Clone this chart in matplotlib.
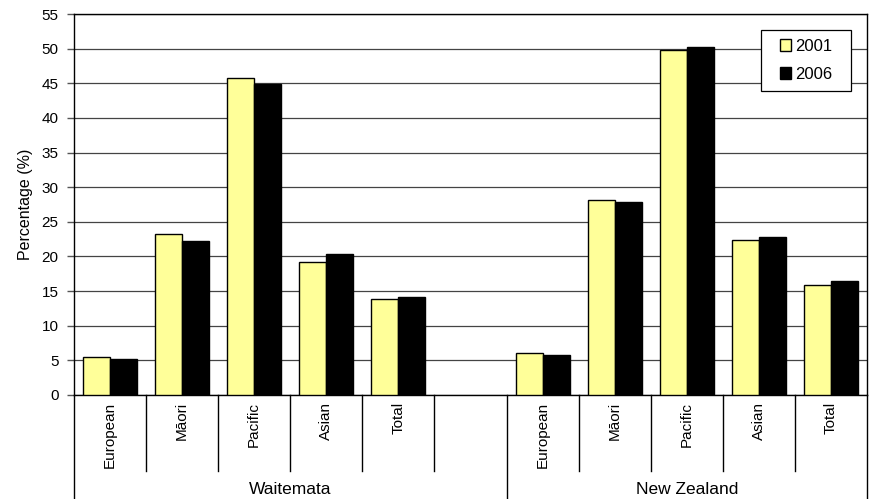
import numpy as np
import matplotlib
matplotlib.use("Agg")
import matplotlib.pyplot as plt
from matplotlib.lines import Line2D
from matplotlib.patches import Rectangle

plt.rcParams['font.family'] = ['Liberation Sans', 'DejaVu Sans']

# data
groups = ['Waitemata', 'New Zealand']
ethnicities = ['European', 'Māori', 'Pacific', 'Asian', 'Total']
years = ['2001', '2006']
waitemata_2001 = [5.5, 23.3, 45.7, 19.2, 13.8]
waitemata_2006 = [5.2, 22.3, 44.9, 20.3, 14.2]
nz_2001 = [6.1, 28.1, 49.8, 22.4, 15.9]
nz_2006 = [5.8, 27.8, 50.2, 22.8, 16.5]
y_ticks = list(range(0, 56, 5))

colors = ['#FFFF99', '#000000']

fig = plt.figure(figsize=(8.73, 4.99), dpi=100)
ax = fig.add_axes([74 / 873, 104 / 499, 793 / 873, 381 / 499])

# slots: 5 categories, one empty slot, 5 categories
n = len(ethnicities)
pos_w = np.arange(n)
pos_nz = np.arange(n) + n + 1
positions = np.concatenate([pos_w, pos_nz])
vals_2001 = waitemata_2001 + nz_2001
vals_2006 = waitemata_2006 + nz_2006

w = 0.375
ax.bar(positions - w / 2, vals_2001, width=w, color=colors[0], edgecolor='black',
       linewidth=1, label=years[0], zorder=3)
ax.bar(positions + w / 2, vals_2006, width=w, color=colors[1], edgecolor='black',
       linewidth=1, label=years[1], zorder=3)

n_slots = 2 * n + 1
ax.set_xlim(-0.5, n_slots - 0.5)
ax.set_ylim(0, 55)
ax.set_yticks(y_ticks)
ax.tick_params(axis='y', length=5, width=1, labelsize=11, pad=6, color='#555555')
ax.yaxis.grid(True, color='#444444', linewidth=0.9, zorder=0)
ax.set_axisbelow(True)

ax.set_xticks(positions)
ax.set_xticklabels(ethnicities * 2, rotation=90, fontsize=11, va='top')
ax.tick_params(axis='x', length=0, pad=5)

ax.set_ylabel('Percentage (%)', fontsize=11.5, labelpad=6)

for s in ax.spines.values():
    s.set_color('black')
    s.set_linewidth(1)

# category separator lines below the axis
xt = ax.get_xaxis_transform()
short_len = -76 / 381
long_len = -104 / 381
for b in range(n_slots + 1):
    x = b - 0.5
    full = b in (0, n + 1, n_slots)
    ax.add_line(Line2D([x, x], [0, long_len if full else short_len], transform=xt,
                       color='black', linewidth=1, clip_on=False))

# group labels
group_centres = [(-0.5 + n + 0.5) / 2, (n + 0.5 + n_slots - 0.5) / 2]
for g, c in zip(groups, group_centres):
    ax.text(c, -94 / 381, g, transform=xt, ha='center', va='center', fontsize=12.5)

# legend with a wide box like the original
fig.add_artist(Rectangle((761 / 873, 408 / 499), 90 / 873, 61 / 499,
                         transform=fig.transFigure, facecolor='white',
                         edgecolor='black', linewidth=0.9, zorder=5))
leg = fig.legend(loc='center', bbox_to_anchor=(806 / 873, 438.5 / 499), fontsize=12,
                 frameon=False, handlelength=0.7, handleheight=0.7, handletextpad=0.25,
                 borderpad=0.2, labelspacing=0.8)
leg.set_zorder(6)

fig.savefig('out.png', dpi=100)
